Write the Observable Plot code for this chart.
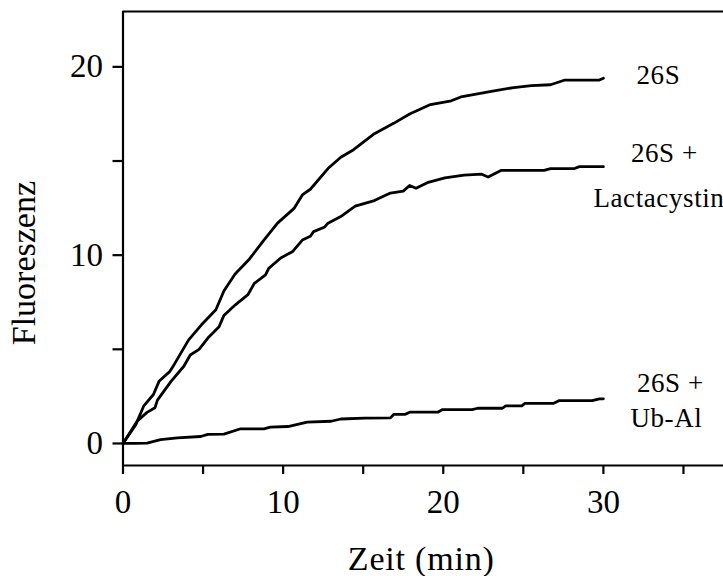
<!DOCTYPE html>
<html><head><meta charset="utf-8">
<script src="https://cdn.jsdelivr.net/npm/d3@7"></script>
<script src="https://cdn.jsdelivr.net/npm/@observablehq/plot@0.6"></script>
<style>html,body{margin:0;padding:0;background:#fff;overflow:hidden}</style>
</head><body><div id="chart"></div>
<script>
// ---- data ----
const time26S = [0, 0.8, 1.3, 1.9, 2.25, 2.9, 3.2, 4.1, 4.9, 5.8, 6.3, 7.0, 7.9, 8.8, 9.65, 10.7, 11.2, 11.7, 12.8, 13.6, 14.4, 15.7, 16.9, 17.9, 19.2, 20.5, 21.1, 23.0, 24.4, 25.5, 26.7, 27.6, 29.75, 30];
const fluor26S = [0, 1.0, 2.0, 2.6, 3.3, 3.8, 4.2, 5.5, 6.3, 7.1, 8.1, 9.0, 9.8, 10.8, 11.7, 12.5, 13.2, 13.5, 14.6, 15.2, 15.6, 16.45, 17.0, 17.5, 18.0, 18.2, 18.4, 18.7, 18.9, 19.0, 19.05, 19.3, 19.3, 19.4];

const timeLacta = [0, 0.9, 1.5, 2.0, 2.15, 3.0, 3.8, 4.2, 4.75, 5.3, 6.0, 6.3, 7.0, 7.8, 8.2, 8.9, 9.1, 9.85, 10.6, 11.2, 11.7, 11.9, 12.6, 12.8, 13.6, 14.5, 15.7, 16.7, 17.5, 17.9, 18.3, 19.0, 20.1, 21.3, 22.4, 22.8, 23.6, 26.3, 26.7, 28.2, 28.5, 30];
const fluorLacta = [0, 1.2, 1.65, 1.9, 2.3, 3.3, 4.1, 4.7, 5.0, 5.6, 6.2, 6.8, 7.35, 7.9, 8.5, 8.95, 9.3, 9.85, 10.2, 10.8, 11.0, 11.25, 11.5, 11.7, 12.05, 12.6, 12.9, 13.3, 13.4, 13.7, 13.55, 13.85, 14.1, 14.25, 14.3, 14.15, 14.5, 14.5, 14.6, 14.6, 14.7, 14.7];

const timeUbAl = [0, 0.7, 1.5, 2.35, 3.4, 4.85, 5.3, 6.3, 7.35, 8.8, 9.2, 10.3, 11.5, 13.0, 13.6, 15.1, 16.7, 16.9, 17.6, 17.9, 19.65, 19.96, 21.8, 22.15, 23.7, 23.9, 24.9, 25.1, 26.9, 27.25, 29.3, 29.75, 30];
const fluorUbAl = [0, 0, 0.02, 0.2, 0.3, 0.37, 0.48, 0.5, 0.78, 0.78, 0.87, 0.9, 1.13, 1.18, 1.3, 1.35, 1.36, 1.54, 1.54, 1.66, 1.66, 1.8, 1.8, 1.87, 1.87, 2.0, 2.0, 2.13, 2.13, 2.28, 2.28, 2.37, 2.37];

const xDomain = [0, 37.5];
const yDomain = [-1.17, 22.94];
const xTicks = [0, 5, 10, 15, 20, 25, 30, 35];
const xTickLabels = ["0", "", "10", "", "20", "", "30", ""];
const yTicks = [0, 5, 10, 15, 20];
const yTickLabels = ["0", "", "10", "", "20"];
const xTitle = "Zeit (min)";
const yTitle = "Fluoreszenz";
const label26S = "26S";
const labelLacta = ["26S +", "Lactacystin"];
const labelUbAl = ["26S +", "Ub-Al"];

// ---- build ----
const zip = (t, v) => t.map((x, i) => ({x, y: v[i]}));
const s26S = zip(time26S, fluor26S);
const sLacta = zip(timeLacta, fluorLacta);
const sUbAl = zip(timeUbAl, fluorUbAl);
const lastOf = s => [s[s.length - 1]];

const serif = "'Liberation Serif', 'Times New Roman', serif";
const lineOpts = {x: "x", y: "y", stroke: "black", strokeWidth: 2.8, strokeLinejoin: "round"};
const lblOpts = {x: "x", y: "y", fontSize: 27, fill: "black", lineAnchor: "bottom"};

const chart = Plot.plot({
  width: 723, height: 576,
  marginLeft: 122.5, marginRight: 0, marginTop: 11, marginBottom: 111,
  style: {fontFamily: serif, background: "white", color: "black"},
  x: {domain: xDomain},
  y: {domain: yDomain},
  marks: [
    Plot.ruleX([xDomain[0]], {stroke: "black", strokeWidth: 2.2}),
    Plot.ruleY([yDomain[0]], {stroke: "black", strokeWidth: 2.2}),
    Plot.ruleY([yDomain[1]], {stroke: "black", strokeWidth: 2.2}),
    Plot.axisY({ticks: yTicks, tickFormat: d => yTickLabels[yTicks.indexOf(d)], tickSize: 10, tickPadding: 10, fontSize: 33, strokeWidth: 2.2, label: null, stroke: "black"}),
    Plot.axisX({ticks: xTicks, tickFormat: d => xTickLabels[xTicks.indexOf(d)], tickSize: 9, tickPadding: 15, fontSize: 33, strokeWidth: 2.2, label: null, stroke: "black"}),
    Plot.line(s26S, lineOpts),
    Plot.line(sLacta, lineOpts),
    Plot.line(sUbAl, lineOpts),
    Plot.text(lastOf(s26S), {...lblOpts, text: () => label26S, dx: 55, dy: 6}),
    Plot.text(lastOf(sLacta), {...lblOpts, text: () => labelLacta[0], dx: 61, dy: -5}),
    Plot.text(lastOf(sLacta), {...lblOpts, text: () => labelLacta[1], textAnchor: "start", dx: -10, dy: 40}),
    Plot.text(lastOf(sUbAl), {...lblOpts, text: () => labelUbAl[0], dx: 67, dy: -6.6}),
    Plot.text(lastOf(sUbAl), {...lblOpts, text: () => labelUbAl[1], dx: 63, dy: 28.4}),
    Plot.text([xTitle], {text: d => d, frameAnchor: "bottom", lineAnchor: "bottom", textAnchor: "middle", dx: -2, dy: 104, fontSize: 34, fill: "black"}),
    Plot.text([yTitle], {text: d => d, frameAnchor: "left", textAnchor: "middle", rotate: -90, dx: -99, dy: 24.6, fontSize: 34, fill: "black"})
  ]
});
// slight horizontal widening of the serif text, as in the reference
d3.select(chart).selectAll("text").each(function () {
  const t = this.textContent;
  if (t === xTitle) this.setAttribute("letter-spacing", "0.8");
  else if ([label26S, ...labelLacta, ...labelUbAl].includes(t)) this.setAttribute("letter-spacing", "0.6");
});
document.getElementById("chart").appendChild(chart);
</script>
</body></html>
